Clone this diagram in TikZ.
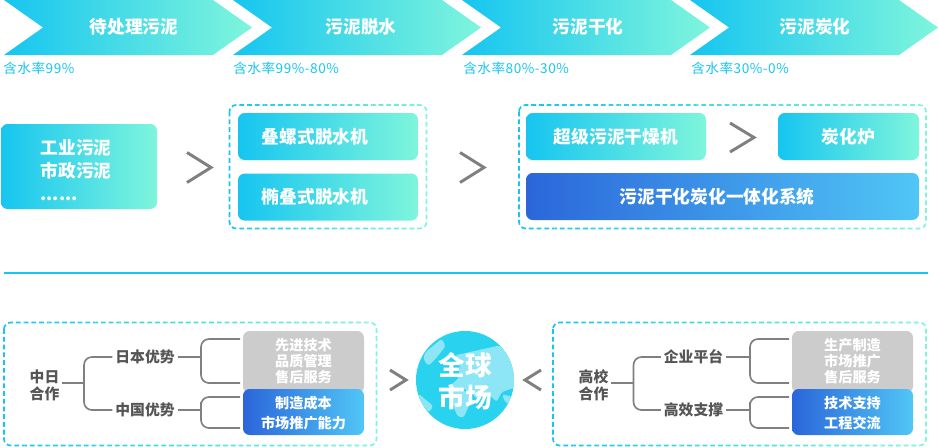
\documentclass[tikz,border=0pt]{standalone}
\usepackage{fontspec}
\setmainfont{Noto Sans CJK SC}
\usetikzlibrary{positioning}
\definecolor{cyanl}{HTML}{16C5F0}
\definecolor{cyanr}{HTML}{7FF5DC}
\definecolor{bluel}{HTML}{2B66DA}
\definecolor{bluer}{HTML}{50C6F6}
\definecolor{greybox}{HTML}{CCCCCC}
\definecolor{signgrey}{HTML}{808080}
\definecolor{labelgrey}{HTML}{555555}
\definecolor{globebase}{HTML}{29D2EE}
\definecolor{globeland}{HTML}{8CE6F6}
\tikzset{
  stephead/.style={text=white, font=\bfseries\fontsize{13.3}{16}\selectfont},
  steprate/.style={text=cyanl, font=\fontsize{10.2}{13}\selectfont\addfontfeature{LetterSpace=4}, inner sep=0pt, anchor=west},
  tealbox/.style={left color=cyanl, right color=cyanr, rounded corners=5pt, inner sep=0pt,
    text=white, font=\bfseries\fontsize{13.3}{16}\selectfont},
  bluebox/.style={left color=bluel, right color=bluer, rounded corners=5pt, inner sep=0pt,
    text=white, font=\bfseries\fontsize{13.3}{16}\selectfont},
  smallblue/.style={bluebox, minimum width=90.75pt, minimum height=34.5pt},
  bluetext/.style={text=white, align=center, inner sep=0pt, font=\bfseries\fontsize{10.6}{15}\selectfont},
  greyback/.style={fill=greybox, rounded corners=5pt, inner sep=0pt, minimum width=90.75pt, minimum height=46.5pt},
  greytext/.style={text=white, align=center, inner sep=0pt, font=\bfseries\fontsize{10.6}{12}\selectfont},
  treelabel/.style={text=labelgrey, align=center, inner sep=2pt, font=\bfseries\fontsize{11.1}{12.8}\selectfont},
  dashframe/.style={line width=1.25pt, dash pattern=on 3.6pt off 2.2pt, rounded corners=5pt},
  signline/.style={draw=signgrey, line width=2.2pt, miter limit=10},
  treeline/.style={draw=signgrey, line width=1.25pt, rounded corners=6pt}
}
% dashed frame whose colour runs from left to right
\newcommand{\gradframe}[4]{%
  \foreach \i in {0,...,31}{
    \pgfmathsetmacro{\mixv}{\i/31*100}
    \begin{scope}
      \clip ({#1-3+(#3-#1+6)*\i/32},{#2-3}) rectangle ({#1-3+(#3-#1+6)*(\i+1)/32},{#4+3});
      \draw[dashframe, draw=cyanr!\mixv!cyanl] (#1,#2) rectangle (#3,#4);
    \end{scope}
  }}
\begin{document}
\begin{tikzpicture}[x=0.75pt,y=-0.75pt]
  \useasboundingbox (0,0) rectangle (938,447);

  % Steps
  \shade[left color=cyanl, right color=cyanr] (4,0) -- (213,0) -- (252,27.5) -- (213,55) -- (4,55) -- (43,27.5) -- cycle;
  \shade[left color=cyanl, right color=cyanr] (233,0) -- (442,0) -- (481,27.5) -- (442,55) -- (233,55) -- (272,27.5) -- cycle;
  \shade[left color=cyanl, right color=cyanr] (462,0) -- (671,0) -- (710,27.5) -- (671,55) -- (462,55) -- (501,27.5) -- cycle;
  \shade[left color=cyanl, right color=cyanr] (690,0) -- (899,0) -- (938,27.5) -- (899,55) -- (690,55) -- (729,27.5) -- cycle;
  \node[stephead] (stepa) at (134,27) {待处理污泥};
  \node[stephead] (stepb) at (361,27) {污泥脱水};
  \node[stephead] (stepc) at (588,27) {污泥干化};
  \node[stephead] (stepd) at (815,27) {污泥炭化};
  \node[steprate] (ratea) at (3,68) {含水率99\%};
  \node[steprate] (rateb) at (233,68) {含水率99\%-80\%};
  \node[steprate] (ratec) at (463,68) {含水率80\%-30\%};
  \node[steprate] (rated) at (691,68) {含水率30\%-0\%};

  % Process row
  \node[tealbox, minimum width=117pt, minimum height=63.75pt] (source) at (79,166.5) {};
  \node[text=white, align=left, inner sep=0pt, font=\bfseries\fontsize{13.3}{17.2}\selectfont] (sourcetext) at (76,170) {工业污泥\\市政污泥\\......};
  \gradframe{229.5}{105}{426.5}{228.5}
  \node[tealbox, minimum width=135pt, minimum height=35.25pt] (dewa) at (328,136.5) {叠螺式脱水机\hspace*{19.5pt}};
  \node[tealbox, minimum width=135pt, minimum height=35.25pt, below=9.75pt of dewa] (dewb) {椭叠式脱水机\hspace*{19.5pt}};
  \gradframe{519}{105}{926}{228.5}
  \node[tealbox, minimum width=135pt, minimum height=35.25pt] (dry) at (616,136.5) {超级污泥干燥机};
  \node[tealbox, minimum width=105.75pt, minimum height=35.25pt] (furnace) at (848.5,136.5) {炭化炉};
  \node[bluebox, minimum width=294.75pt, minimum height=35.25pt] (system) at (722.5,196.5) {污泥干化炭化一体化系统\hspace*{8pt}};
  \draw[signline] (187,152.5) -- (211,167.5) -- (187,182.5);
  \draw[signline] (460,152.5) -- (484,167.5) -- (460,182.5);
  \draw[signline] (730,123) -- (754,137.5) -- (730,152);

  % Divider
  \coordinate (rulea) at (4,272.5);
  \coordinate (ruleb) at (928,272.5);
  \draw[cyanl, line width=1.5pt] (rulea) -- (ruleb);

  % Left tree
  \gradframe{4}{322.5}{376.5}{445.5}
  \node[greyback] (jpback) at (303.5,362) {};
  \node[greytext] (jptext) at (303.5,361.5) {先进技术\\品质管理\\售后服务};
  \node[smallblue] (cnback) at (303.5,412) {};
  \node[bluetext] (cntext) at (303.5,413.5) {制造成本\\市场推广能力};
  \node[treelabel] (sinojp) at (44.5,385) {中日\\合作};
  \node[treelabel] (jpadv) at (145,357) {日本优势};
  \node[treelabel] (cnadv) at (145,410) {中国优势};
  \coordinate (forka) at (84,383);
  \coordinate (forkb) at (201,357);
  \coordinate (forkc) at (201,410);
  \coordinate (enda) at (240,339);
  \coordinate (endb) at (240,383);
  \coordinate (endc) at (240,397);
  \coordinate (endd) at (240,428);
  \draw[treeline] (sinojp.east |- forka) -- (forka);
  \draw[treeline] (jpadv.west) -| (forka) |- (cnadv.west);
  \draw[treeline] (jpadv.east) -- (forkb);
  \draw[treeline] (enda) -| (forkb) |- (endb);
  \draw[treeline] (cnadv.east) -- (forkc);
  \draw[treeline] (endc) -| (forkc) |- (endd);

  % Globe
  \draw[signline] (390,370) -- (406,380) -- (390,390);
  \draw[signline] (541,370) -- (525,380) -- (541,390);
  \begin{scope}
    \clip (465,380) circle [radius=49];
    \fill[globebase] (415,330) rectangle (515,430);
    \begin{scope}[shift={(405,322)}, x=0.25pt, y=-0.25pt, rounded corners=2pt]
      \fill[globeland] (150,100) -- (240,80) -- (285,70) -- (340,140) -- (335,195) -- (290,210) -- (275,240) -- (250,215)
        -- (215,232) -- (195,205) -- (130,195) -- (160,170) -- (165,130) -- cycle;
      \fill[globeland] (125,200) -- (185,208) -- (197,240) -- (175,288) -- (157,282) -- (135,228) -- cycle;
      \fill[globeland] (60,92) -- (110,50) -- (122,72) -- (92,110) -- (70,132) -- (55,112) -- cycle;
      \fill[globeland] (40,215) -- (85,252) -- (72,272) -- (50,245) -- cycle;
      \fill[globeland] (292,216) -- (322,225) -- (318,250) -- (298,238) -- cycle;
    \end{scope}
  \end{scope}
  \node[text=white, align=center, inner sep=0pt, font=\bfseries\fontsize{20}{24}\selectfont] (market) at (465,381) {全球\\市场};

  % Right tree
  \gradframe{553}{322.5}{926}{445.5}
  \node[greyback] (coback) at (852.5,362) {};
  \node[greytext] (cotext) at (852.5,361.5) {生产制造\\市场推广\\售后服务};
  \node[smallblue] (uniback) at (852.5,412) {};
  \node[bluetext] (unitext) at (852.5,413.5) {技术支持\\工程交流};
  \node[treelabel] (college) at (593.5,385) {高校\\合作};
  \node[treelabel] (corp) at (693.5,357) {企业平台};
  \node[treelabel] (effect) at (693.5,410) {高效支撑};
  \coordinate (forkd) at (633.5,383);
  \coordinate (forke) at (750,357);
  \coordinate (forkf) at (750,410);
  \coordinate (ende) at (789,339);
  \coordinate (endf) at (789,383);
  \coordinate (endg) at (789,397);
  \coordinate (endh) at (789,428);
  \draw[treeline] (college.east |- forkd) -- (forkd);
  \draw[treeline] (corp.west) -| (forkd) |- (effect.west);
  \draw[treeline] (corp.east) -- (forke);
  \draw[treeline] (ende) -| (forke) |- (endf);
  \draw[treeline] (effect.east) -- (forkf);
  \draw[treeline] (endg) -| (forkf) |- (endh);
\end{tikzpicture}
\end{document}
